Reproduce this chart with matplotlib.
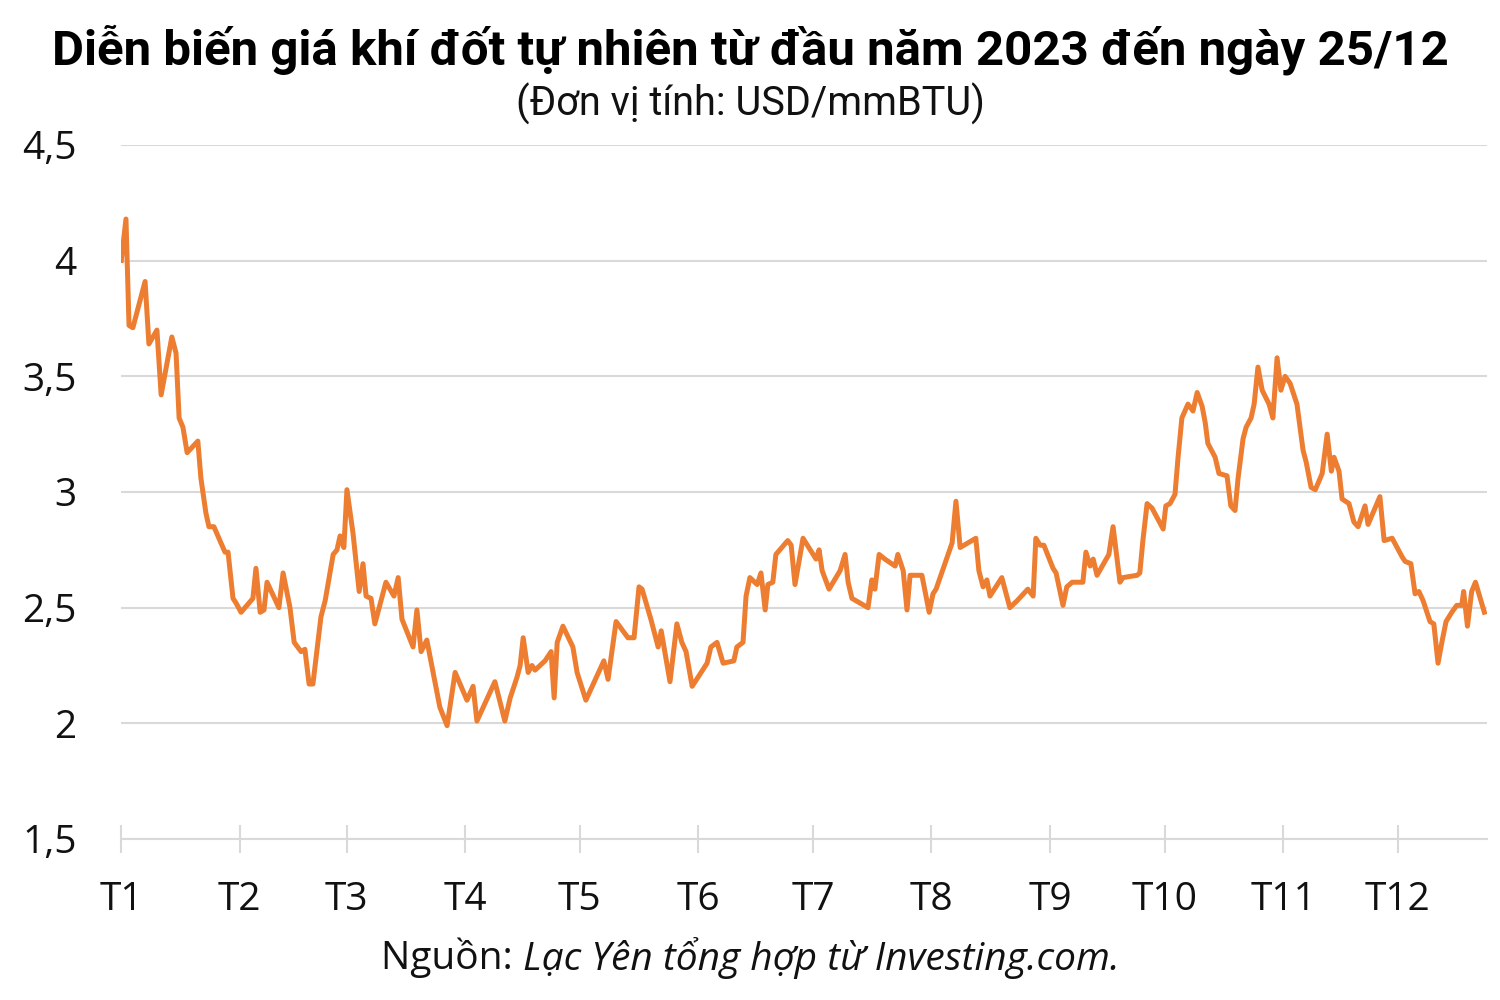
import matplotlib
matplotlib.use("Agg")
import matplotlib.pyplot as plt

# ---- data ----
# position along the year (days after 1 Jan 2023) and price in USD/mmBTU
day_of_year = [
    0, 1.3, 2.1, 3.1, 6.3, 7.3, 9.4, 10.5, 13.3, 14.4, 15.2, 16.2, 17.3, 20.1, 20.9,
    22.2, 23.0, 24.3, 27.2, 28.0, 29.3, 30.1, 31.4, 34.5, 35.3, 36.4, 37.4, 38.2,
    41.3, 42.4, 44.2, 45.3, 47.1, 48.1, 49.2, 50.2, 52.3, 53.4, 55.5, 56.5, 57.3,
    58.3, 59.1, 60.7, 62.3, 63.3, 64.1, 65.4, 66.4, 69.3, 71.4, 72.5, 73.5, 76.4,
    77.4, 78.5, 80.0, 83.4, 85.3, 87.4, 90.5, 92.1, 93.1, 97.8, 100.4, 101.8,
    103.6, 104.4, 105.2, 106.5, 107.5, 108.3, 110.9, 112.5, 113.3, 114.1, 115.6,
    118.2, 119.3, 121.6, 126.3, 127.4, 129.5, 132.6, 134.2, 135.5, 136.3, 138.6,
    140.5, 141.3, 143.6, 145.4, 146.7, 147.8, 149.4, 153.3, 154.3, 155.9, 157.5,
    160.3, 161.1, 162.7, 163.5, 164.5, 166.4, 167.4, 168.5, 169.2, 170.5, 171.3,
    174.4, 175.3, 176.3, 178.4, 181.8, 182.6, 183.4, 185.2, 188.1, 189.4, 190.2,
    191.2, 195.4, 196.4, 197.2, 198.3, 199.8, 202.5, 203.2, 204.6, 205.6, 206.4,
    209.5, 211.4, 212.4, 213.2, 217.4, 218.4, 219.5, 223.6, 224.4, 225.5, 226.5,
    227.3, 230.4, 232.5, 234.4, 237.2, 238.6, 239.3, 240.4, 241.4, 243.8, 244.6,
    246.4, 247.4, 248.8, 251.6, 252.4, 253.5, 254.3, 255.3, 258.4, 259.5, 261.3,
    262.1, 265.8, 266.5, 267.3, 268.4, 269.7, 272.6, 273.3, 274.4, 275.7, 276.5,
    277.5, 279.1, 280.4, 281.5, 282.8, 283.6, 284.3, 286.2, 287.2, 289.3, 290.3,
    291.4, 292.2, 293.5, 294.3, 295.6, 296.4, 297.4, 298.5, 300.3, 301.3, 302.4,
    303.4, 304.5, 305.8, 307.6, 309.2, 310.0, 311.3, 312.4, 314.2, 315.5, 316.6,
    317.3, 318.6, 319.4, 321.2, 322.5, 323.6, 325.4, 326.2, 329.3, 330.4, 332.5,
    335.1, 335.9, 337.4, 338.5, 339.5, 340.6, 342.4, 343.4, 344.5, 345.5, 346.6,
    348.1, 349.4, 350.7, 351.2, 352.2, 353.3, 354.3, 356.8,
]
price = [
    3.99, 4.18, 3.72, 3.71, 3.91, 3.64, 3.70, 3.42, 3.67, 3.60, 3.32, 3.28, 3.17, 3.22, 3.06,
    2.91, 2.85, 2.85, 2.74, 2.74, 2.54, 2.52, 2.48, 2.54, 2.67, 2.48, 2.49, 2.61,
    2.50, 2.65, 2.50, 2.35, 2.31, 2.32, 2.17, 2.17, 2.46, 2.53, 2.73, 2.75, 2.81,
    2.76, 3.01, 2.82, 2.57, 2.69, 2.55, 2.54, 2.43, 2.61, 2.55, 2.63, 2.45, 2.33,
    2.49, 2.31, 2.36, 2.07, 1.99, 2.22, 2.10, 2.16, 2.01, 2.18, 2.01, 2.11,
    2.20, 2.25, 2.37, 2.22, 2.25, 2.23, 2.27, 2.31, 2.11, 2.35, 2.42,
    2.33, 2.22, 2.10, 2.27, 2.19, 2.44, 2.37, 2.37, 2.59, 2.58, 2.45,
    2.33, 2.40, 2.18, 2.43, 2.35, 2.31, 2.16, 2.26, 2.33, 2.35, 2.26,
    2.27, 2.33, 2.35, 2.55, 2.63, 2.60, 2.65, 2.49, 2.60, 2.61, 2.73,
    2.79, 2.77, 2.60, 2.80, 2.71, 2.75, 2.66, 2.58, 2.66, 2.73, 2.61,
    2.54, 2.50, 2.62, 2.58, 2.73, 2.71, 2.68, 2.73, 2.66, 2.49, 2.64,
    2.64, 2.48, 2.56, 2.58, 2.78, 2.96, 2.76, 2.80, 2.66, 2.59, 2.62,
    2.55, 2.63, 2.50, 2.53, 2.58, 2.55, 2.80, 2.77, 2.77, 2.67, 2.65,
    2.51, 2.59, 2.61, 2.61, 2.74, 2.68, 2.71, 2.64, 2.73, 2.85, 2.61,
    2.63, 2.64, 2.65, 2.79, 2.95, 2.93, 2.84, 2.94, 2.95, 2.99, 3.15,
    3.32, 3.38, 3.35, 3.43, 3.37, 3.30, 3.21, 3.15, 3.08, 3.07, 2.94,
    2.92, 3.06, 3.23, 3.28, 3.32, 3.38, 3.54, 3.44, 3.38, 3.32, 3.58,
    3.44, 3.50, 3.47, 3.38, 3.18, 3.13, 3.02, 3.01, 3.08, 3.25, 3.09,
    3.15, 3.09, 2.97, 2.95, 2.87, 2.85, 2.94, 2.86, 2.98, 2.79, 2.80,
    2.72, 2.70, 2.69, 2.56, 2.57, 2.53, 2.44, 2.43, 2.26, 2.35, 2.44,
    2.48, 2.51, 2.51, 2.57, 2.42, 2.57, 2.61, 2.47,
]
month_starts = [0, 31, 59, 90, 120, 151, 181, 212, 243, 273, 304, 334]
month_labels = ["T1", "T2", "T3", "T4", "T5", "T6", "T7", "T8", "T9", "T10", "T11", "T12"]
y_ticks = [1.5, 2, 2.5, 3, 3.5, 4, 4.5]
y_tick_labels = ["1,5", "2", "2,5", "3", "3,5", "4", "4,5"]

title_text = "Diễn biến giá khí đốt tự nhiên từ đầu năm 2023 đến ngày 25/12"
subtitle_text = "(Đơn vị tính: USD/mmBTU)"
source_prefix = "Nguồn: "
source_body = "Lạc Yên tổng hợp từ Investing.com."

# ---- styling ----
LINE_COLOR = "#ED7D31"
GRID_COLOR = "#d9d9d9"
TICK_FONT = ["Open Sans", "DejaVu Sans"]
TITLE_FONT = ["Roboto", "DejaVu Sans"]

W, H = 1500, 1000
fig = plt.figure(figsize=(15, 10), dpi=100)
ax = fig.add_axes([121 / W, 1 - 839 / H, (1487 - 121) / W, (839 - 145) / H])

ax.plot(day_of_year, price, color=LINE_COLOR, lw=3.6,
        solid_joinstyle="round", solid_capstyle="butt", zorder=3)

ax.set_xlim(0, (1487 - 121) / 3.823)
ax.set_ylim(1.5, 4.5)
ax.set_yticks(y_ticks)
ax.set_yticklabels(y_tick_labels)
ax.set_xticks(month_starts)
ax.set_xticklabels(month_labels)

ax.yaxis.grid(True, color=GRID_COLOR, lw=1.5)
ax.set_axisbelow(True)
for s in ["top", "right", "left"]:
    ax.spines[s].set_visible(False)
ax.spines["bottom"].set_color(GRID_COLOR)
ax.spines["bottom"].set_linewidth(1.5)

ax.tick_params(axis="x", direction="inout", length=20, width=1.5,
               color=GRID_COLOR, pad=20, labelsize=28)
ax.tick_params(axis="y", length=0, pad=32, labelsize=28)
for lab in ax.get_xticklabels() + ax.get_yticklabels():
    lab.set_fontfamily(TICK_FONT)
    lab.set_color("#111111")

fig.text(0.5, 1 - 50 / H, title_text, ha="center", va="center",
         fontsize=35.5, fontweight="bold", family=TITLE_FONT, color="#000000")
fig.text(0.5, 1 - 104 / H, subtitle_text, ha="center", va="center",
         fontsize=28.5, family=TITLE_FONT, color="#111111")

# source line: regular prefix + italic body, centred together
renderer = fig.canvas.get_renderer()
src_y = 1 - 958 / H
t1 = fig.text(0, src_y, source_prefix, ha="left", va="center",
              fontsize=28, family=TICK_FONT, color="#111111")
t2 = fig.text(0, src_y, source_body, ha="left", va="center",
              fontsize=28, family=TICK_FONT, style="italic", color="#111111")
w1 = t1.get_window_extent(renderer).width / W
w2 = t2.get_window_extent(renderer).width / W
x0 = 0.5 - (w1 + w2) / 2
t1.set_x(x0)
t2.set_x(x0 + w1)

fig.savefig("out.png", dpi=100, facecolor="white")
